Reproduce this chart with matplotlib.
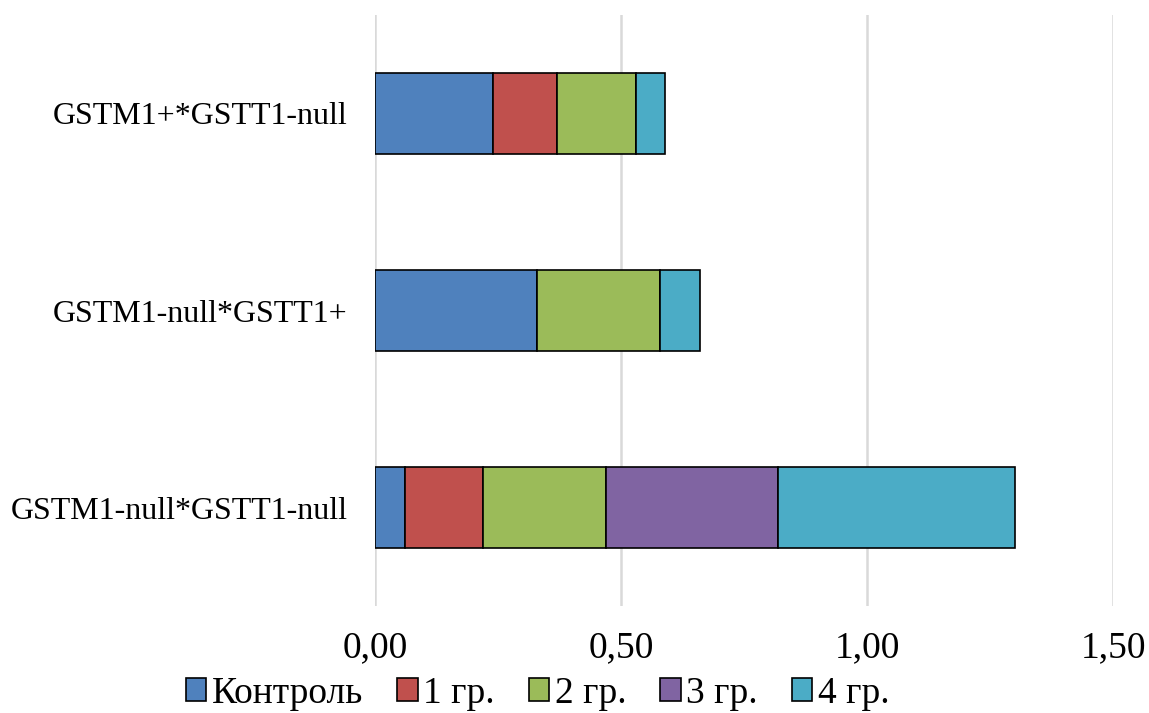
import matplotlib
matplotlib.use("Agg")
import matplotlib.pyplot as plt
import numpy as np

categories = ["GSTM1-null*GSTT1-null", "GSTM1-null*GSTT1+", "GSTM1+*GSTT1-null"]
groups = ["Контроль", "1 гр.", "2 гр.", "3 гр.", "4 гр."]
control = [0.06, 0.33, 0.24]
gr1 = [0.16, 0.00, 0.13]
gr2 = [0.25, 0.25, 0.16]
gr3 = [0.35, 0.00, 0.00]
gr4 = [0.48, 0.08, 0.06]
colors = ["#4f81bd", "#c0504d", "#9bbb59", "#8064a2", "#4bacc6"]
xticks = [0.0, 0.5, 1.0, 1.5]

plt.rcParams["font.family"] = ["Liberation Serif", "DejaVu Serif"]

fig = plt.figure(figsize=(11.49, 7.13), dpi=100)
ax = fig.add_axes([0.3264, 0.150, 0.6423, 0.829])

y = np.arange(len(categories))
left = np.zeros(len(categories))
for name, vals, c in zip(groups, [control, gr1, gr2, gr3, gr4], colors):
    ax.barh(y, vals, height=0.41, left=left, color=c, edgecolor="black",
            linewidth=1.2, label=name, zorder=3)
    left += np.array(vals)

ax.set_xlim(0, 1.5)
ax.set_ylim(-0.5, 2.5)
ax.set_xticks(xticks)
ax.set_xticklabels([f"{v:.2f}".replace(".", ",") for v in xticks], fontsize=27)
ax.set_yticks(y)
ax.set_yticklabels(categories, fontsize=23)
ax.tick_params(length=0)
ax.tick_params(axis="x", pad=18)
ax.tick_params(axis="y", pad=20)
for s in ax.spines.values():
    s.set_visible(False)
ax.grid(axis="x", color="#d9d9d9", linewidth=1.8, zorder=0)

fig.legend(loc="center", bbox_to_anchor=(0.468, 0.027), ncol=5, frameon=False,
           fontsize=27, handlelength=0.55, handleheight=0.55, handletextpad=0.15,
           columnspacing=0.9, borderaxespad=0)

fig.savefig("out.png", dpi=100)
